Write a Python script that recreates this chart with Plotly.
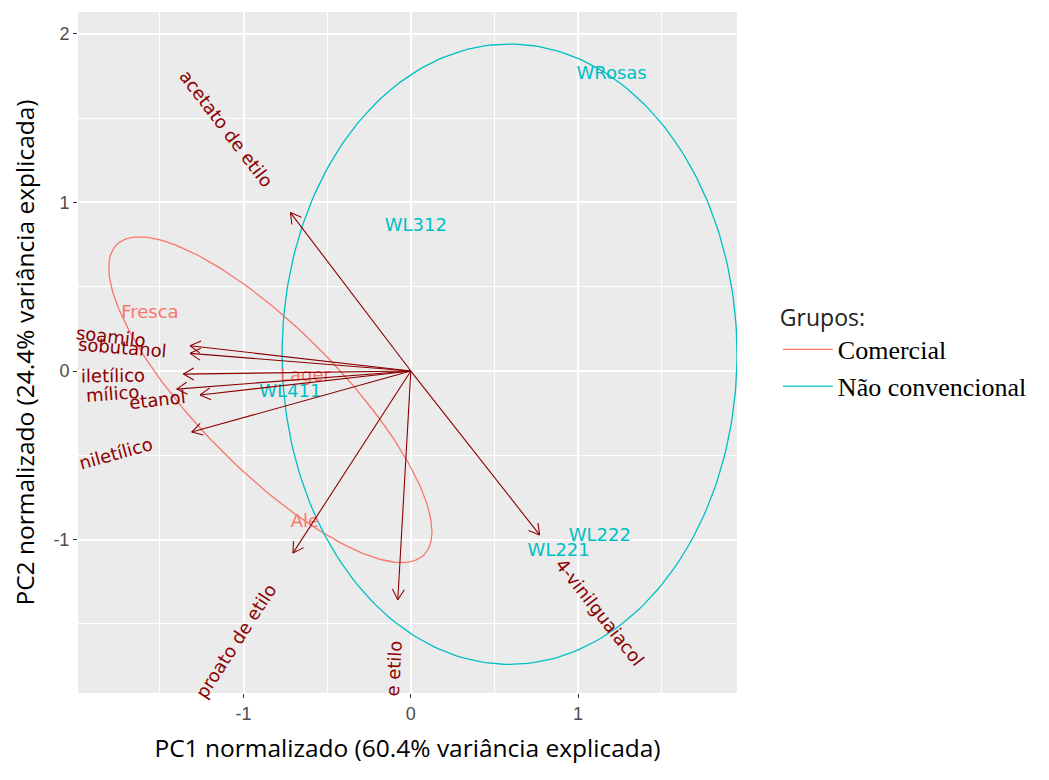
import math
import numpy as np
import plotly.graph_objects as go

# ---------------- data ----------------
var_names = ["acetato de etilo", "acetato de isoamilo", "isobutanol", "álcool feniletílico",
             "álcool isoamílico", "etanol", "acetato feniletílico", "caproato de etilo",
             "octanoato de etilo", "4-vinilguaiacol"]
# part of each variable label that is visible inside the panel
var_shown = ["acetato de etilo", "soamilo", "sobutanol", "iletílico",
             "mílico", "etanol", "niletílico", "proato de etilo",
             "e etilo", "4-vinilguaiacol"]
var_pc1 = [-0.72, -1.32, -1.32, -1.36, -1.40, -1.26, -1.31, -0.705, -0.078, 0.77]
var_pc2 = [0.94, 0.15, 0.105, -0.018, -0.107, -0.142, -0.362, -1.08, -1.357, -0.972]

sample_names = ["WRosas", "WL312", "Fresca", "WL411", "Lager", "Ale", "WL222", "WL221"]
sample_group = ["Não convencional", "Não convencional", "Comercial", "Não convencional",
                "Comercial", "Comercial", "Não convencional", "Não convencional"]
sample_pc1 = [1.20, 0.03, -1.56, -0.72, -0.63, -0.633, 1.13, 0.884]
sample_pc2 = [1.76, 0.855, 0.344, -0.13, -0.035, -0.90, -0.984, -1.073]

groups = ["Comercial", "Não convencional"]
ellipse_cx = [-0.84, 0.59]
ellipse_cy = [-0.17, 0.10]
ellipse_a = [1.30, 1.36]
ellipse_b = [0.42, 1.84]
ellipse_angle = [-45.0, 0.0]

x_ticks = [-1, 0, 1]
y_ticks = [-1, 0, 1, 2]

# ---------------- style ----------------
colors = {"Comercial": "#F8766D", "Não convencional": "#00BFC4"}
ARROW_COL = "#8B0000"
VAR_FS = 18
SAMPLE_FS = 18
X_RANGE = [-1.99, 1.95]
Y_RANGE = [-1.91, 2.13]
# the page body adds an 8px offset, so the figure is 8px smaller and margins shifted
W, H = 1041, 772
M_L, M_R, M_T, M_B = 70, 312, 4, 87
PX = (W - M_L - M_R) / (X_RANGE[1] - X_RANGE[0])
PY = (H - M_T - M_B) / (Y_RANGE[1] - Y_RANGE[0])

# approximate DejaVu Sans advance widths (em)
DV = {'a': .613, 'b': .635, 'c': .55, 'd': .635, 'e': .615, 'f': .352, 'g': .635, 'i': .278,
      'í': .278, 'l': .278, 'm': .974, 'n': .634, 'o': .612, 'p': .635, 'r': .411, 's': .521,
      't': .392, 'u': .634, 'v': .592, 'á': .613, ' ': .318, '-': .361, '4': .636}


def text_w(s, size):
    return sum(DV.get(c, 0.6) for c in s) * size


fig = go.Figure()

# ellipses
for g, cx, cy, a, b, ang in zip(groups, ellipse_cx, ellipse_cy, ellipse_a, ellipse_b, ellipse_angle):
    t = np.linspace(0, 2 * np.pi, 241)
    th = np.radians(ang)
    ex = cx + a * np.cos(t) * np.cos(th) - b * np.sin(t) * np.sin(th)
    ey = cy + a * np.cos(t) * np.sin(th) + b * np.sin(t) * np.cos(th)
    fig.add_trace(go.Scatter(x=ex, y=ey, mode="lines", name=g,
                             line=dict(color=colors[g], width=1.3), hoverinfo="skip"))

# sample labels
for g in groups:
    idx = [i for i, s in enumerate(sample_group) if s == g]
    fig.add_trace(go.Scatter(
        x=[sample_pc1[i] for i in idx], y=[sample_pc2[i] for i in idx],
        text=[sample_names[i] for i in idx], mode="text", showlegend=False,
        textfont=dict(family="DejaVu Sans", size=SAMPLE_FS, color=colors[g]),
        hoverinfo="skip"))

# arrows (loadings)
ax_x, ax_y = [], []
HEAD = 12.0  # px
for x, y in zip(var_pc1, var_pc2):
    ax_x += [0, x, None]
    ax_y += [0, y, None]
    dx, dy = x * PX, y * PY
    r = math.hypot(dx, dy)
    ux, uy = dx / r, dy / r
    for s in (1, -1):
        c, sn = math.cos(math.radians(30)), math.sin(math.radians(30)) * s
        bx = -(ux * c - uy * sn)
        by = -(ux * sn + uy * c)
        ax_x += [x + bx * HEAD / PX, x, None]
        ax_y += [y + by * HEAD / PY, y, None]
fig.add_trace(go.Scatter(x=ax_x, y=ax_y, mode="lines", showlegend=False, hoverinfo="skip",
                         line=dict(color=ARROW_COL, width=1.1)))

# variable labels (ggbiplot style: beyond the arrow tip, rotated along it)
annotations = []
for name, shown, x, y in zip(var_names, var_shown, var_pc1, var_pc2):
    dx, dy = x * PX, y * PY
    r = math.hypot(dx, dy)
    ux, uy = dx / r, dy / r
    d = 0.25 * text_w(name, VAR_FS) + 0.5 * text_w(shown, VAR_FS)
    cx = x + ux * d / PX
    cy = y + uy * d / PY
    ang = math.degrees(math.atan(dy / dx))
    annotations.append(dict(x=cx, y=cy, xref="x", yref="y", text=shown, showarrow=False,
                            textangle=-ang, xanchor="center", yanchor="middle",
                            font=dict(family="DejaVu Sans", size=VAR_FS, color=ARROW_COL)))

axis_common = dict(showgrid=True, gridcolor="white", gridwidth=1.5, zeroline=False,
                   ticks="outside", ticklen=4, tickwidth=1, tickcolor="#333333",
                   tickfont=dict(family="Liberation Sans", size=18, color="#4D4D4D"),
                   showline=False)

fig.update_layout(
    width=W, height=H, autosize=False,
    margin=dict(l=M_L, r=M_R, t=M_T, b=M_B),
    plot_bgcolor="#EBEBEB", paper_bgcolor="white",
    annotations=annotations,
    xaxis=dict(range=X_RANGE, tickvals=x_ticks, ticktext=[str(v) for v in x_ticks],
               minor=dict(tick0=0.5, dtick=1, showgrid=True, gridcolor="white", gridwidth=0.8),
               title=dict(text="PC1 normalizado (60.4% variância explicada)", standoff=17,
                          font=dict(family="Open Sans", size=24.5, color="black")),
               **axis_common),
    yaxis=dict(range=Y_RANGE, tickvals=y_ticks, ticktext=[str(v) for v in y_ticks],
               minor=dict(tick0=0.5, dtick=1, showgrid=True, gridcolor="white", gridwidth=0.8),
               title=dict(text="PC2 normalizado (24.4% variância explicada)", standoff=16,
                          font=dict(family="Open Sans", size=24.5, color="black")),
               **axis_common),
    legend=dict(x=1.062, y=0.583, xanchor="left", yanchor="top", itemwidth=50,
                tracegroupgap=0, bgcolor="rgba(0,0,0,0)",
                font=dict(family="Liberation Serif", size=26, color="black"),
                title=dict(text="Grupos:", font=dict(family="Open Sans", size=23, color="#222222"))),
    showlegend=True,
)

fig.write_html("out.html")
